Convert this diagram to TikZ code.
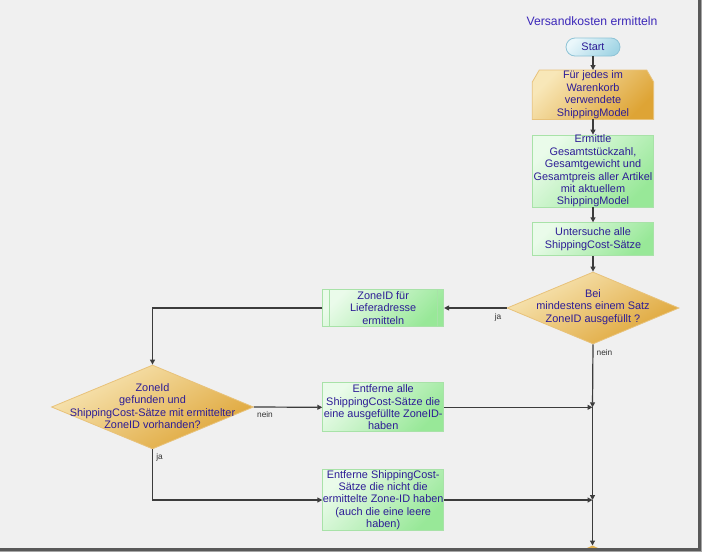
\documentclass[tikz,border=0pt]{standalone}
\usepackage{fontspec}
\setmainfont{Liberation Sans}
\usetikzlibrary{shapes.geometric,arrows.meta}
\definecolor{bg}{HTML}{F0F0F0}
\definecolor{txtc}{RGB}{45,28,150}
\definecolor{titc}{RGB}{60,40,185}
\definecolor{lnc}{HTML}{3C3C3C}
\definecolor{gl}{HTML}{EAFBEA}
\definecolor{gd}{HTML}{98E898}
\definecolor{gb}{HTML}{A8E2A8}
\definecolor{ol}{HTML}{F8E7B8}
\definecolor{od}{HTML}{DEA435}
\definecolor{ob}{HTML}{E8C27A}
\definecolor{bl}{HTML}{EAF7FB}
\definecolor{bd}{HTML}{A2D5E5}
\definecolor{bb}{HTML}{8EC3D6}
\begin{document}
\begin{tikzpicture}[x=1pt,y=-1pt,
  txt/.style={text=txtc,font=\fontsize{10.9}{12.4}\selectfont,align=center,inner sep=0},
  titl/.style={text=titc,font=\fontsize{12.2}{14}\selectfont,inner sep=0},
  lab/.style={text=black!80,font=\fontsize{8.3}{9}\selectfont,inner sep=0},
  gbox/.style={rectangle,draw=gb,line width=0.8pt,top color=gl,bottom color=gd,shading angle=45,minimum width=121pt,inner sep=0},
  obox/.style={draw=ob,line width=0.8pt,top color=ol,bottom color=od,shading angle=45},
  odia/.style={diamond,draw=ob,line width=0.8pt,top color=ol,bottom color=od,shading angle=30,inner sep=0},
  startbox/.style={rectangle,rounded corners=9pt,draw=bb,line width=0.8pt,top color=bl,bottom color=bd,shading angle=45,minimum width=54pt,minimum height=18pt,inner sep=0},
  conn/.style={draw=lnc,line width=1.2pt,-{Triangle[length=5pt,width=5pt]}},
]
\useasboundingbox (0,0) rectangle (702,552);
\fill[bg] (0,0) rectangle (702,552);

% title
\node[titl] (title) at (592,21) {Versandkosten ermitteln};

% start
\node[startbox] (start) at (593,47) {};
\node[txt] (tstart) at (start) {Start};

% loop limit (chamfered)
\node[rectangle,minimum width=121pt,minimum height=49pt,inner sep=0] (h) at (593,94.7) {};
\path[obox] ([xshift=7pt]h.north west) -- ([xshift=-7pt]h.north east) -- ([yshift=-12pt]h.north east)
  -- (h.south east) -- (h.south west) -- ([yshift=-12pt]h.north west) -- cycle;
\node[txt] (th) at (h) {Für jedes im\\Warenkorb\\verwendete\\ShippingModel};

% Ermittle
\node[gbox,minimum height=72pt] (b1) at (593,171) {};
\node[txt] (tb1) at (b1) {Ermittle\\Gesamtstückzahl,\\Gesamtgewicht und\\Gesamtpreis aller Artikel\\mit aktuellem\\ShippingModel};

% Untersuche
\node[gbox,minimum height=33pt] (b2) at (593,239.2) {};
\node[txt] (tb2) at (b2) {Untersuche alle\\ShippingCost-Sätze};

% Diamond 1
\node[odia,minimum width=172pt,minimum height=72pt] (d1) at (593,308) {};
\node[txt] (td1) at (593,307) {Bei\\mindestens einem Satz\\ZoneID ausgefüllt ?};

% ZoneID box (predefined process)
\node[gbox,minimum height=37pt] (z) at (383.2,308) {};
\draw[gb,line width=0.8pt] ([xshift=7pt]z.north west) -- ([xshift=7pt]z.south west);
\draw[gb,line width=0.8pt] ([xshift=-7pt]z.north east) -- ([xshift=-7pt]z.south east);
\node[txt] (tz) at (z) {ZoneID für\\Lieferadresse\\ermitteln};

% Diamond 2
\node[odia,minimum width=202pt,minimum height=84pt] (d2) at (152.5,407) {};
\node[txt] (td2) at (152.5,406) {ZoneId\\gefunden und\\ShippingCost-Sätze mit ermittelter\\ZoneID vorhanden?};

% Entferne alle
\node[gbox,minimum height=49pt] (b4) at (383.2,407.3) {};
\node[txt] (tb4) at (b4) {Entferne alle\\ShippingCost-Sätze die\\eine ausgefüllte ZoneID-\\haben};

% Entferne ShippingCost
\node[gbox,minimum height=61pt] (b5) at (383.2,500) {};
\node[txt] (tb5) at (b5) {Entferne ShippingCost-\\Sätze die nicht die\\ermittelte Zone-ID haben\\(auch die eine leere\\haben)};

% junctions
\coordinate (j1) at (592.5,407.3);
\coordinate (j2) at (592.5,500);
\coordinate (j3) at (592.5,545.5);

% next shape peeking at bottom
\fill[od!80!ol] (585,549) -- (592.5,545.5) -- (600,549) -- cycle;

% connectors
\draw[conn] (start) -- (h);
\draw[conn] (h) -- (b1);
\draw[conn] (b1) -- (b2);
\draw[conn] (b2) -- (d1);
\draw[conn] (d1.west) -- (z.east);
\draw[conn] (z.west) -| (d2.north);
\draw[conn] (d2.east) -- (b4.west);
\draw[conn] (d2.south) |- (b5.west);
\draw[conn] (b4.east) -- (j1);
\draw[conn] (b5.east) -- (j2);
\draw[conn] (d1.south) -- (j1);
\draw[conn] (j1) -- (j2);
\draw[conn] (j2) -- (j3);

% labels
\node[lab] (l1) at (498,317) {ja};
\node[lab] (l2) at (604.5,353) {nein};
\node[lab] (l3) at (265,415) {nein};
\node[lab] (l4) at (159.5,457) {ja};

% window border
\fill[black!65] (697.5,0) rectangle (700.5,552);
\fill[black!65] (0,548) rectangle (702,551);
\fill[black!35] (700.5,0) rectangle (702,552);
\fill[black!35] (0,551) rectangle (702,552);
\end{tikzpicture}
\end{document}
